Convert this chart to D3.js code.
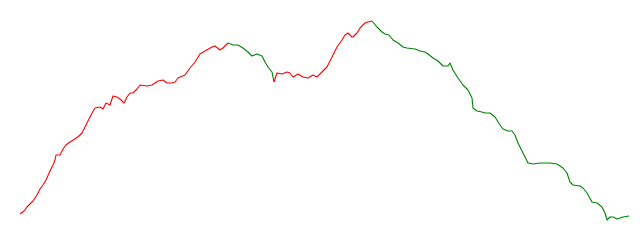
<!DOCTYPE html>
<html>
<head>
<meta charset="utf-8">
<script src="https://cdn.jsdelivr.net/npm/d3@7"></script>
<style>
  html, body { margin: 0; padding: 0; background: #fff; }
  #chart { width: 640px; height: 240px; }
</style>
</head>
<body>
<div id="chart"></div>
<script>
// day index and value
const days = [
  0, 4, 7, 10, 13, 17, 20, 23, 26, 30, 33, 35, 36, 38, 40, 43, 46, 50, 55, 59,
  62, 67, 72, 75, 80, 83, 86, 90, 93, 97, 100, 104, 107, 110, 113, 117, 120, 127, 132, 135,
  138, 143, 147, 152, 155, 158, 165, 170, 175, 180, 185, 192, 195, 200, 203, 208,
  213, 218, 223, 228, 232, 237, 242, 245, 248, 252, 254,
  257, 262, 267, 270, 273, 278, 283, 288, 293, 297, 303, 307, 312, 317, 322, 325, 328, 332, 333,
  337, 340, 345, 348, 352,
  357, 362, 365, 369, 373, 378, 383, 387, 395, 400, 405, 408, 413, 418, 423, 428, 430, 433, 438,
  443, 448, 452, 453, 457, 462, 465, 470, 475, 480, 483, 488, 492, 495, 498, 503, 508, 513, 520,
  530, 537, 543, 547, 550, 553, 560, 563, 567, 572, 577, 582, 585, 587, 590, 593, 597, 603, 609
];
const values = [
  6, 9, 13, 16, 19, 25, 31, 35, 40, 49, 55, 60, 65, 65, 65, 71, 75, 78, 81, 84,
  87, 97, 107, 112, 113, 111, 117, 115, 124, 123, 121, 117, 123, 127, 127, 131, 135, 134, 135, 137,
  139, 140, 137, 137, 138, 142, 145, 152, 158, 166, 169, 173, 174, 170, 172, 177,
  175, 175, 172, 168, 164, 166, 164, 158, 153, 148, 138,
  147, 146, 148, 147, 143, 146, 143, 142, 145, 143, 149, 153, 163, 173, 180, 185, 187, 183, 183,
  187, 192, 197, 198, 199,
  193, 188, 186, 185, 180, 177, 173, 172, 171, 169, 168, 166, 162, 159, 154, 154, 157, 150, 142,
  135, 130, 122, 112, 109, 108, 107, 107, 103, 95, 91, 89, 89, 85, 77, 67, 57, 56, 57,
  57, 56, 52, 47, 38, 35, 34, 32, 27, 18, 17, 13, 7, 0, 3, 3, 1, 3, 4
];
// days where the trend flips, and the colour of each stretch
const phaseBreaks = [0, 208, 254, 352, 609];
const phaseColors = ['red', 'green', 'red', 'green'];

function drawChart() {
  const container = d3.select('#chart');
  const width = 640;
  const height = 240;
  const margin = { top: 20, right: 11, bottom: 20, left: 20 };

  const svg = container.append('svg')
    .attr('width', width)
    .attr('height', height);

  const x = d3.scaleLinear()
    .domain([0, 609])
    .range([margin.left, width - margin.right]);
  const y = d3.scaleLinear()
    .domain([0, 200])
    .range([height - margin.bottom, margin.top]);

  const points = days.map((d, i) => ({ day: d, value: values[i] }));
  const line = d3.line()
    .x(d => x(d.day))
    .y(d => y(d.value));

  phaseColors.forEach((color, i) => {
    const seg = points.filter(p => p.day >= phaseBreaks[i] && p.day <= phaseBreaks[i + 1]);
    svg.append('path')
      .datum(seg)
      .attr('fill', 'none')
      .attr('stroke', color)
      .attr('stroke-width', 1.1)
      .attr('stroke-linejoin', 'round')
      .attr('d', line);
  });
}

drawChart();
</script>
</body>
</html>
